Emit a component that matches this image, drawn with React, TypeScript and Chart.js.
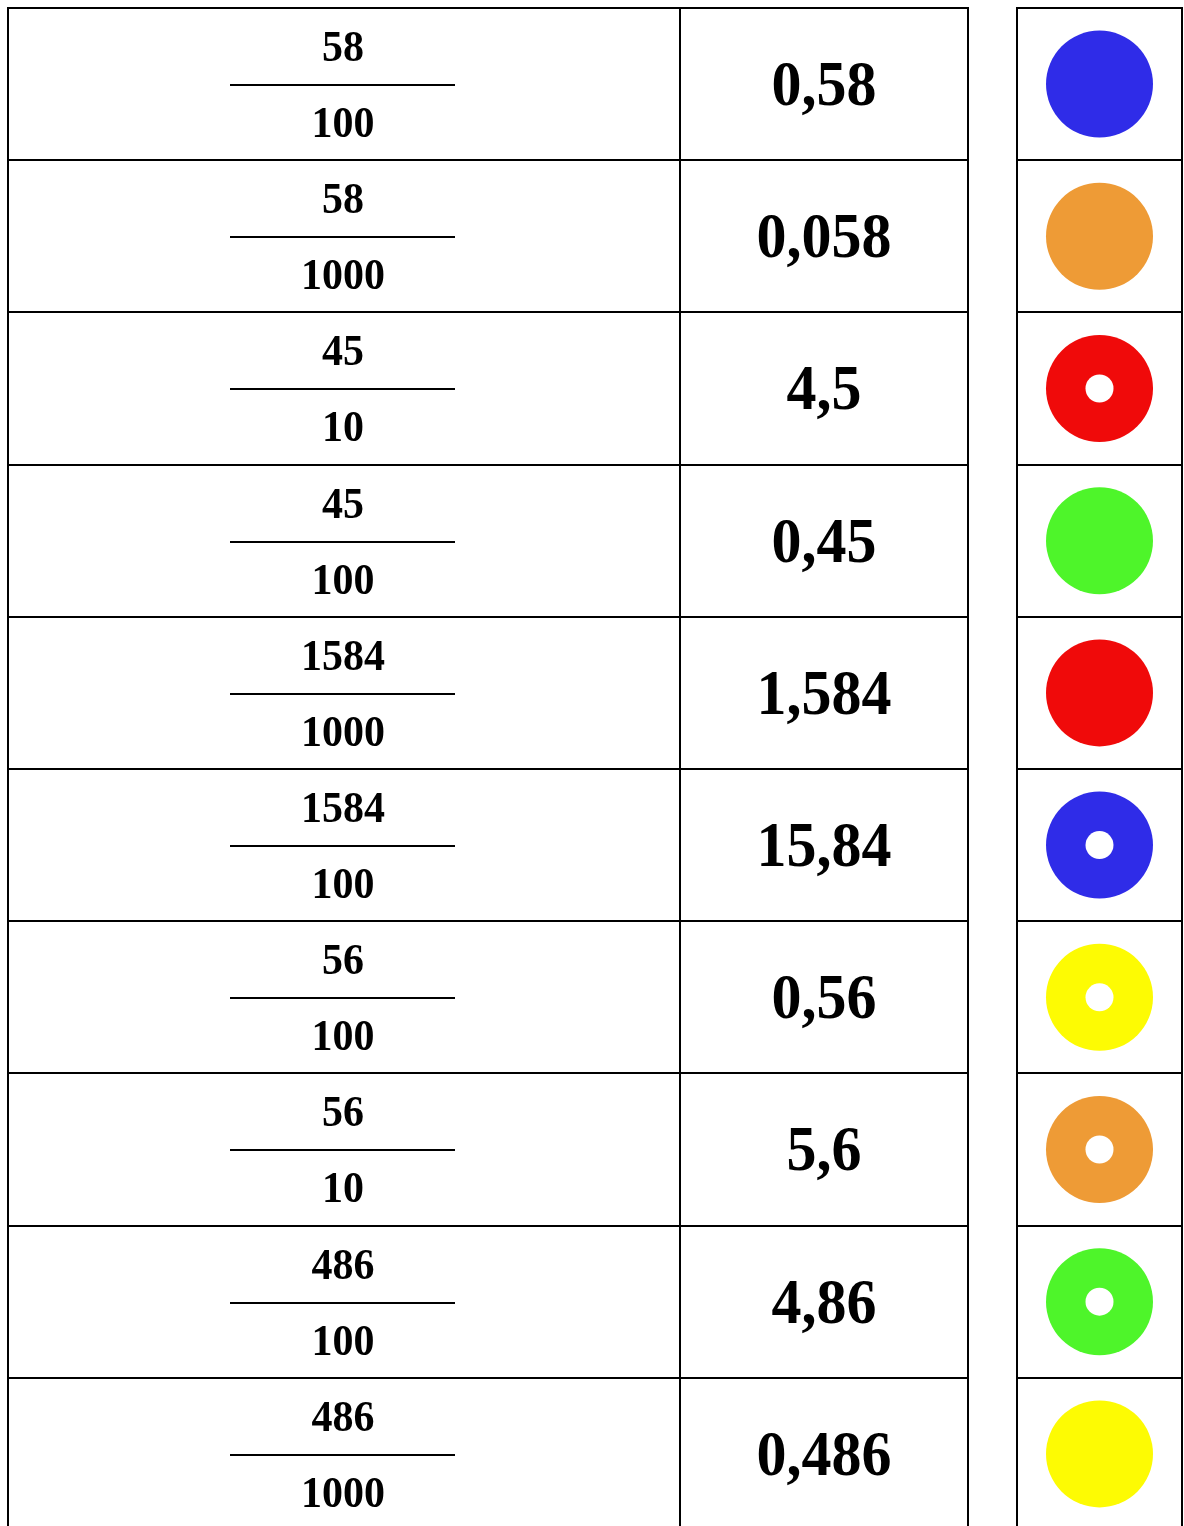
import React, { useEffect, useRef } from "react";
import { Chart, registerables } from "chart.js";

Chart.register(...registerables);

// ---- data ----
const numerators = ["58", "58", "45", "45", "1584", "1584", "56", "56", "486", "486"];
const denominators = ["100", "1000", "10", "100", "1000", "100", "100", "10", "100", "1000"];
const decimals = ["0,58", "0,058", "4,5", "0,45", "1,584", "15,84", "0,56", "5,6", "4,86", "0,486"];
const dotColors = [
  "#2f2ce8", // blue
  "#ee9b36", // orange
  "#f00a0a", // red
  "#4ef52a", // green
  "#f00a0a", // red
  "#2f2ce8", // blue
  "#fdfb03", // yellow
  "#ee9b36", // orange
  "#4ef52a", // green
  "#fdfb03", // yellow
];
const hasHole = [false, false, true, false, false, true, true, true, true, false];

// ---- layout (style) ----
const W = 1184;
const H = 1526;
const TOP = 8;
const ROW_H = 152.2;
const COL_LEFT = 8;
const COL_MID = 680;
const COL_RIGHT = 968;
const DOT_LEFT = 1017;
const DOT_RIGHT = 1182;
const FRAC_X = 343;
const FRAC_LINE_L = 230;
const FRAC_LINE_R = 455;
const DEC_X = 824;
const DOT_X = 1099.5;
const DOT_R = 53.5;
const HOLE_R = 14;
const FONT = '"Liberation Serif", "Times New Roman", serif';

const tablePlugin = {
  id: "tablePlugin",
  beforeDatasetsDraw(chart: any) {
    const ctx = chart.ctx as CanvasRenderingContext2D;
    const xs = chart.scales.x;
    const ys = chart.scales.y;
    const n = numerators.length;
    ctx.save();
    ctx.strokeStyle = "#000";
    ctx.lineWidth = 2;
    ctx.lineCap = "butt";
    const top = Math.round(ys.getPixelForValue(0));
    // horizontal row lines
    for (let i = 0; i <= n; i++) {
      const y = Math.round(ys.getPixelForValue(i));
      if (y > H) continue;
      ctx.beginPath();
      ctx.moveTo(xs.getPixelForValue(COL_LEFT) - 1, y);
      ctx.lineTo(xs.getPixelForValue(COL_RIGHT) + 1, y);
      ctx.moveTo(xs.getPixelForValue(DOT_LEFT) - 1, y);
      ctx.lineTo(xs.getPixelForValue(DOT_RIGHT) + 1, y);
      ctx.stroke();
    }
    // vertical lines
    for (const cx of [COL_LEFT, COL_MID, COL_RIGHT, DOT_LEFT, DOT_RIGHT]) {
      const x = xs.getPixelForValue(cx);
      ctx.beginPath();
      ctx.moveTo(x, top - 1);
      ctx.lineTo(x, H);
      ctx.stroke();
    }
    // fractions and decimals
    ctx.fillStyle = "#000";
    ctx.textAlign = "center";
    ctx.textBaseline = "alphabetic";
    for (let i = 0; i < n; i++) {
      const rowTop = ys.getPixelForValue(i);
      // fraction bar
      const ly = Math.round(rowTop + 77);
      ctx.beginPath();
      ctx.moveTo(xs.getPixelForValue(FRAC_LINE_L), ly);
      ctx.lineTo(xs.getPixelForValue(FRAC_LINE_R), ly);
      ctx.stroke();
      const drawText = (t: string, x: number, y: number, size: number) => {
        ctx.save();
        ctx.translate(x, y);
        ctx.scale(1, 1.05);
        ctx.font = `bold ${size}px ${FONT}`;
        ctx.fillText(t, 0, 0);
        ctx.restore();
      };
      drawText(numerators[i], xs.getPixelForValue(FRAC_X), rowTop + 53, 42);
      drawText(denominators[i], xs.getPixelForValue(FRAC_X), rowTop + 129, 42);
      drawText(decimals[i], xs.getPixelForValue(DEC_X), rowTop + 97, 60);
    }
    ctx.restore();
  },
};

export default function App() {
  const ref = useRef<HTMLCanvasElement | null>(null);
  useEffect(() => {
    if (!ref.current) return;
    const dots = decimals.map((_, i) => ({ x: DOT_X, y: i + 0.5 }));
    const holes = decimals
      .map((_, i) => ({ x: DOT_X, y: i + 0.5 }))
      .filter((_, i) => hasHole[i]);
    const chart = new Chart(ref.current, {
      type: "scatter",
      data: {
        datasets: [
          {
            data: holes,
            order: 1,
            pointRadius: HOLE_R,
            pointHoverRadius: HOLE_R,
            pointBackgroundColor: "#ffffff",
            pointBorderWidth: 0,
            borderWidth: 0,
          },
          {
            data: dots,
            order: 2,
            pointRadius: DOT_R,
            pointHoverRadius: DOT_R,
            pointBackgroundColor: dotColors,
            pointBorderWidth: 0,
            borderWidth: 0,
          },
        ],
      },
      options: {
        animation: false,
        responsive: false,
        devicePixelRatio: 1,
        events: [],
        layout: { padding: 0, autoPadding: false },
        plugins: {
          legend: { display: false },
          tooltip: { enabled: false },
        },
        scales: {
          x: { type: "linear", min: 0, max: W, display: false },
          y: {
            type: "linear",
            min: -TOP / ROW_H,
            max: (H - TOP) / ROW_H,
            reverse: true,
            display: false,
          },
        },
      },
      plugins: [tablePlugin],
    });
    return () => chart.destroy();
  }, []);
  return (
    <div style={{ position: "absolute", left: 0, top: 0, width: W, height: H, background: "#fff" }}>
      <canvas ref={ref} width={W} height={H} style={{ display: "block" }} />
    </div>
  );
}
